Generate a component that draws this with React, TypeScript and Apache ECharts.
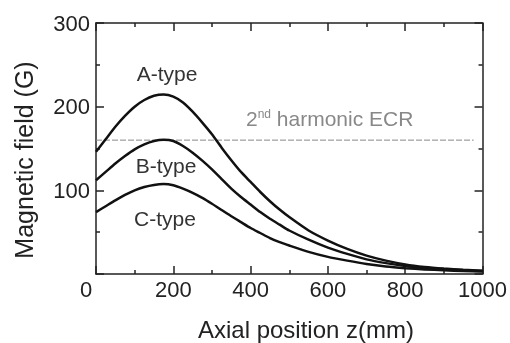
import React, { useEffect, useRef } from "react";
import * as echarts from "echarts";

// Axial position (mm)
const Z_POS = [0, 25, 50, 75, 100, 125, 150, 175, 200, 225, 250, 275, 300, 325, 350, 375, 400, 425, 450, 475, 500, 550, 600, 650, 700, 750, 800, 850, 900, 950, 1000];
// Magnetic field (G)
const A_TYPE = [146, 161, 176, 189, 200, 208, 213, 214.5, 212, 205, 194, 181, 167, 151, 136, 122, 110, 98, 87, 77, 68, 52, 40, 30, 22, 16, 11.5, 8.5, 6.5, 5, 4];
const B_TYPE = [112, 122, 132, 141, 149, 155, 159, 160.5, 159, 153, 145, 135.5, 125, 113.5, 102, 92, 83, 74, 66, 59, 52, 41, 31.5, 24, 17.5, 13, 9.5, 7, 5.5, 4.5, 3.5];
const C_TYPE = [74, 81, 88, 94.5, 100, 104, 106.5, 107.5, 106, 102, 97, 91, 84, 76.5, 69, 62, 55, 49, 43, 38, 34, 26.5, 20.5, 16, 12, 9, 7, 5.5, 4.5, 3.5, 3];
const ECR_FIELD = 160;
const ECR_Z = [0, 977];

const FONT = "'Liberation Sans', Arial, sans-serif";
const AXIS_COLOR = "#222";

const pairs = (vals: number[]) => Z_POS.map((z, i) => [z, vals[i]]);

export default function App() {
  const ref = useRef<HTMLDivElement>(null);
  useEffect(() => {
    if (!ref.current) return;
    const chart = echarts.init(ref.current, null, { renderer: "svg" });
    const axisCommon = {
      type: "value" as const,
      axisLine: { show: true, onZero: false, lineStyle: { color: AXIS_COLOR, width: 1.5 } },
      axisTick: { show: true, inside: true, length: 8, lineStyle: { color: AXIS_COLOR, width: 1.5 } },
      minorTick: { show: true, splitNumber: 2, length: 4, lineStyle: { color: AXIS_COLOR, width: 1.5 } },
      splitLine: { show: false },
      minorSplitLine: { show: false },
    };
    const curve = (name: string, vals: number[]) => ({
      name,
      type: "line",
      data: pairs(vals),
      showSymbol: false,
      symbol: "none",
      smooth: 0.2,
      lineStyle: { color: "#111", width: 2.5 },
      z: 3,
    });
    chart.setOption({
      animation: false,
      grid: { left: 96, right: 23, top: 23, bottom: 69 },
      xAxis: [
        {
          ...axisCommon,
          min: 0,
          max: 1000,
          interval: 200,
          position: "bottom",
          axisLabel: {
            margin: 4,
            fontSize: 22,
            color: AXIS_COLOR,
            fontFamily: FONT,
            formatter: (v: number) => (v === 0 ? "{z|0}" : String(v)),
            rich: { z: { fontSize: 22, fontFamily: FONT, color: AXIS_COLOR, padding: [0, 20, 0, 0] } },
          },
        },
        {
          ...axisCommon,
          min: 0,
          max: 1000,
          interval: 200,
          position: "top",
          axisLabel: { show: false },
        },
      ],
      yAxis: [
        {
          ...axisCommon,
          min: 0,
          max: 300,
          interval: 100,
          position: "left",
          axisLabel: {
            margin: 6,
            fontSize: 22,
            color: AXIS_COLOR,
            fontFamily: FONT,
            formatter: (v: number) => (v === 0 ? "" : String(v)),
          },
        },
        {
          ...axisCommon,
          min: 0,
          max: 300,
          interval: 100,
          position: "right",
          axisLabel: { show: false },
        },
      ],
      series: [
        {
          name: "2nd harmonic ECR",
          type: "line",
          data: ECR_Z.map((z) => [z, ECR_FIELD]),
          symbol: "none",
          lineStyle: { color: "#888", width: 1, type: [6, 2] },
          z: 2,
        },
        curve("A-type", A_TYPE),
        curve("B-type", B_TYPE),
        curve("C-type", C_TYPE),
      ],
      graphic: [
        {
          type: "text",
          x: 306,
          y: 329,
          style: { text: "Axial position z(mm)", font: `24px ${FONT}`, fill: "#222", align: "center", verticalAlign: "middle" },
        },
        {
          type: "text",
          x: 24,
          y: 160,
          rotation: Math.PI / 2,
          style: { text: "Magnetic field (G)", font: `25px ${FONT}`, fill: "#222", align: "center", verticalAlign: "middle" },
        },
        {
          type: "text",
          x: 167,
          y: 73,
          style: { text: "A-type", font: `21px ${FONT}`, fill: "#333", align: "center", verticalAlign: "middle" },
        },
        {
          type: "text",
          x: 166,
          y: 165,
          style: { text: "B-type", font: `21px ${FONT}`, fill: "#333", align: "center", verticalAlign: "middle" },
        },
        {
          type: "text",
          x: 165,
          y: 218,
          style: { text: "C-type", font: `21px ${FONT}`, fill: "#333", align: "center", verticalAlign: "middle" },
        },
        {
          type: "text",
          x: 246,
          y: 118,
          style: {
            text: "{a|2}{b|nd}{a| harmonic ECR}",
            align: "left",
            verticalAlign: "middle",
            rich: {
              a: { fontSize: 21, fontFamily: FONT, fill: "#888", color: "#888" },
              b: { fontSize: 12, fontFamily: FONT, fill: "#888", color: "#888", verticalAlign: "top" },
            },
          },
        },
      ],
    });
    return () => chart.dispose();
  }, []);
  return <div ref={ref} style={{ position: "fixed", left: 0, top: 0, width: 510, height: 343 }} />;
}
